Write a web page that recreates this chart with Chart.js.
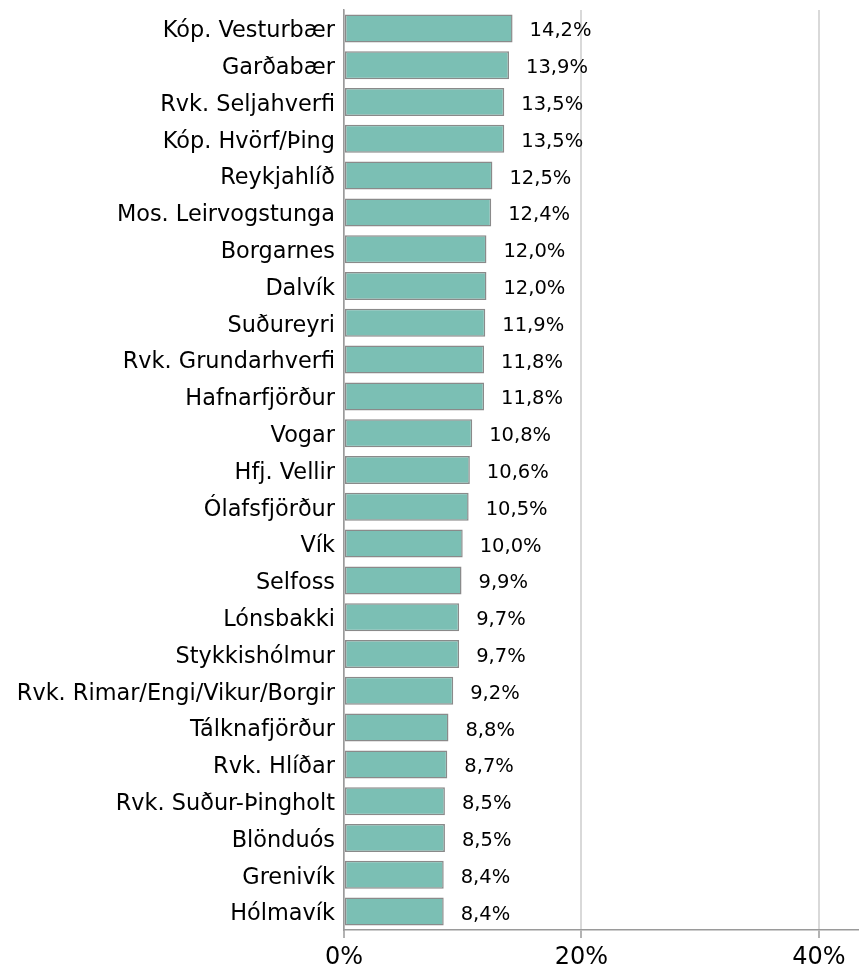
<!DOCTYPE html>
<html>
<head>
<meta charset="utf-8">
<script src="https://cdn.jsdelivr.net/npm/chart.js@4/dist/chart.umd.min.js"></script>
<style>
  html, body { margin: 0; padding: 0; background: #fff; }
  #wrap { width: 859px; height: 974px; }
</style>
</head>
<body>
<div id="wrap"><canvas id="c" width="859" height="974"></canvas></div>
<script>
const categories = [
  'Kóp. Vesturbær', 'Garðabær', 'Rvk. Seljahverfi', 'Kóp. Hvörf/Þing', 'Reykjahlíð',
  'Mos. Leirvogstunga', 'Borgarnes', 'Dalvík', 'Suðureyri', 'Rvk. Grundarhverfi',
  'Hafnarfjörður', 'Vogar', 'Hfj. Vellir', 'Ólafsfjörður', 'Vík',
  'Selfoss', 'Lónsbakki', 'Stykkishólmur', 'Rvk. Rimar/Engi/Vikur/Borgir', 'Tálknafjörður',
  'Rvk. Hlíðar', 'Rvk. Suður-Þingholt', 'Blönduós', 'Grenivík', 'Hólmavík'
];
const values = [
  14.2, 13.9, 13.5, 13.5, 12.5,
  12.4, 12.0, 12.0, 11.9, 11.8,
  11.8, 10.8, 10.6, 10.5, 10.0,
  9.9, 9.7, 9.7, 9.2, 8.8,
  8.7, 8.5, 8.5, 8.4, 8.4
];
const xTicks = [0, 20, 40];

const FONT = '"DejaVu Sans", Verdana, sans-serif';
const fmt = v => v.toFixed(1).replace('.', ',') + '%';

// Draws the value next to the end of each bar
const valueLabels = {
  id: 'valueLabels',
  afterDatasetsDraw(chart) {
    const ctx = chart.ctx;
    const meta = chart.getDatasetMeta(0);
    ctx.save();
    ctx.font = '19.5px ' + FONT;
    ctx.fillStyle = '#000';
    ctx.textAlign = 'left';
    ctx.textBaseline = 'middle';
    meta.data.forEach((bar, i) => {
      ctx.fillText(fmt(values[i]), bar.x + 17, bar.y + 3);
    });
    ctx.restore();
  }
};

// Nudges the category labels down a little so the capitals sit centred on the bars
const labelNudge = {
  id: 'labelNudge',
  beforeDraw(chart) {
    const scale = chart.scales.y;
    if (scale._nudged) return;
    const orig = scale.drawLabels;
    scale.drawLabels = function (area) {
      const ctx = this.ctx;
      ctx.save();
      ctx.translate(0, 3);
      orig.call(this, area);
      ctx.restore();
    };
    scale._nudged = true;
  }
};

new Chart(document.getElementById('c'), {
  type: 'bar',
  data: {
    labels: categories,
    datasets: [{
      data: values,
      backgroundColor: '#7bbfb4',
      borderColor: '#8a8a8a',
      borderWidth: 1.5,
      borderSkipped: false,
      barPercentage: 0.76,
      categoryPercentage: 1
    }]
  },
  options: {
    indexAxis: 'y',
    responsive: false,
    animation: false,
    layout: { padding: { top: 10, right: 1, left: 0, bottom: 0 } },
    plugins: { legend: { display: false }, tooltip: { enabled: false } },
    scales: {
      x: {
        min: 0,
        max: 43.3,
        afterBuildTicks(scale) { scale.ticks = xTicks.map(v => ({ value: v })); },
        afterFit(scale) {
          scale.height = 44;
          scale.paddingLeft = 0;
          scale.paddingRight = 0;
        },
        grid: {
          color: '#d9d9d9',
          lineWidth: 2,
          tickLength: 8,
          tickColor: '#9a9a9a',
          tickWidth: 1.5
        },
        border: { color: '#9a9a9a', width: 1.5 },
        ticks: {
          padding: 5,
          color: '#000',
          font: { family: FONT, size: 24 },
          maxRotation: 0,
          callback: v => v + '%'
        }
      },
      y: {
        afterFit(scale) {
          scale.width = 344;
          scale.paddingTop = 0;
          scale.paddingBottom = 0;
        },
        grid: { display: false, drawTicks: false },
        border: { color: '#9a9a9a', width: 1.5 },
        ticks: {
          padding: 9,
          color: '#000',
          font: { family: FONT, size: 22.4 },
          autoSkip: false
        }
      }
    }
  },
  plugins: [valueLabels, labelNudge]
});
</script>
</body>
</html>
